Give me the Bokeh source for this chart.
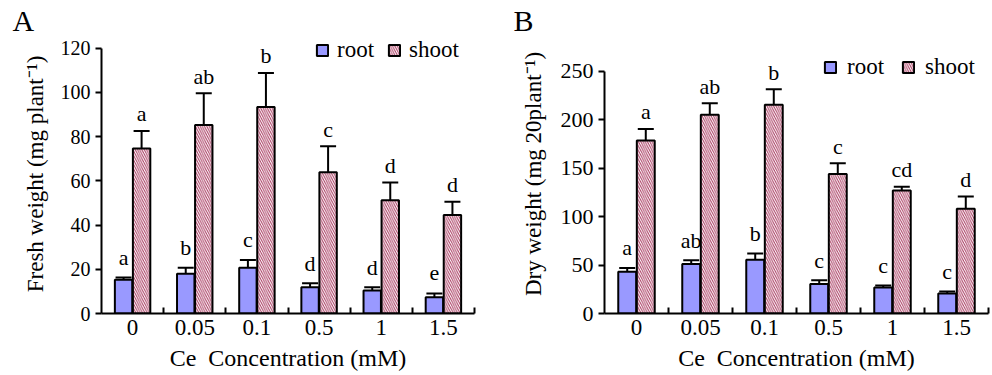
from bokeh.plotting import figure
from bokeh.layouts import row
from bokeh.models import (ColumnDataSource, Range1d, FixedTicker, Whisker, TeeHead,
                          Legend, LegendItem)
from bokeh.transform import dodge
from bokeh.embed import file_html
from bokeh.resources import INLINE

concentrations = ["0", "0.05", "0.1", "0.5", "1", "1.5"]

fresh_root = [15.3, 18.0, 20.7, 11.9, 10.4, 7.4]
fresh_root_err = [1.0, 2.7, 3.5, 1.8, 1.5, 1.7]
fresh_shoot = [74.6, 85.3, 93.4, 63.9, 51.2, 44.5]
fresh_shoot_err = [8.0, 14.3, 15.4, 11.7, 8.0, 6.0]
fresh_root_letters = ["a", "b", "c", "d", "d", "e"]
fresh_shoot_letters = ["a", "ab", "b", "c", "d", "d"]

dry_root = [43.0, 51.0, 55.5, 30.4, 26.9, 20.7]
dry_root_err = [4.0, 4.0, 6.5, 4.0, 2.0, 2.0]
dry_shoot = [178.4, 205.0, 215.3, 144.0, 126.8, 108.2]
dry_shoot_err = [12.0, 12.0, 16.0, 11.0, 4.0, 12.5]
dry_root_letters = ["a", "ab", "b", "c", "c", "c"]
dry_shoot_letters = ["a", "ab", "b", "c", "cd", "d"]

FONT = "Liberation Serif"
ROOT_COLOR = "#9999ff"
HATCH_COLOR = "#a8385f"


def make_panel(tag, ylabel, ymax, ytop, ystep, root, root_err, shoot, shoot_err,
               root_letters, shoot_letters, width, height, b_left, b_right,
               b_top, b_bottom, legend_loc, legend_standoff, legend_spacing,
               ylabel_standoff, ytick_size, tag_offset):
    n = len(concentrations)
    centers = [i + 0.5 for i in range(n)]
    src = ColumnDataSource(dict(
        x=centers,
        root=root, root_up=[v + e for v, e in zip(root, root_err)],
        root_lo=[v - e for v, e in zip(root, root_err)],
        shoot=shoot, shoot_up=[v + e for v, e in zip(shoot, shoot_err)],
        shoot_lo=[v - e for v, e in zip(shoot, shoot_err)],
        rl=root_letters, sl=shoot_letters,
    ))
    p = figure(width=width, height=height, output_backend="svg", toolbar_location=None,
               title=tag,
               x_range=Range1d(0, n), y_range=Range1d(0, ytop),
               min_border_left=b_left, min_border_right=b_right,
               min_border_top=b_top, min_border_bottom=b_bottom)
    p.outline_line_color = None
    p.grid.visible = False
    p.background_fill_color = "white"

    off = 0.145
    bw = 0.28
    r1 = p.vbar(x=dodge("x", -off), top="root", width=bw, bottom=0, source=src,
                fill_color=ROOT_COLOR, line_color="black", line_width=2)
    r2 = p.vbar(x=dodge("x", off), top="shoot", width=bw, bottom=0, source=src,
                fill_color="white", line_color="black", line_width=2,
                hatch_pattern="\\", hatch_color=HATCH_COLOR, hatch_scale=4.5,
                hatch_weight=1)

    for xoff, up, lo in ((-off, "root_up", "root_lo"), (off, "shoot_up", "shoot_lo")):
        w = Whisker(source=src, base=dodge("x", xoff), upper=up, lower=lo,
                    line_color="black", line_width=2,
                    upper_head=TeeHead(size=16, line_width=2, line_color="black"),
                    lower_head=TeeHead(size=16, line_width=2, line_color="black"))
        p.add_layout(w)

    p.text(x=dodge("x", -off), y="root_up", text="rl", source=src,
           text_font=FONT, text_font_size="22px", text_align="center",
           text_baseline="alphabetic", y_offset=-20, text_color="black")
    p.text(x=dodge("x", off), y="shoot_up", text="sl", source=src,
           text_font=FONT, text_font_size="22px", text_align="center",
           text_baseline="alphabetic", y_offset=-17, text_color="black")

    # x axis
    xa = p.xaxis[0]
    xa.ticker = FixedTicker(ticks=centers, minor_ticks=list(range(1, n + 1)))
    xa.major_label_overrides = {c: lab for c, lab in zip(centers, concentrations)}
    xa.major_tick_in = 0
    xa.major_tick_out = 0
    xa.minor_tick_in = 6
    xa.minor_tick_out = 0
    xa.minor_tick_line_width = 2
    xa.minor_tick_line_color = "black"
    xa.axis_line_width = 2
    xa.axis_line_color = "black"
    xa.major_label_text_font = FONT
    xa.major_label_text_font_size = "23px"
    xa.major_label_text_color = "black"
    xa.major_label_standoff = 6
    xa.axis_label = "Ce\u00a0\u00a0Concentration (mM)"
    xa.axis_label_text_font = FONT
    xa.axis_label_text_font_size = "24px"
    xa.axis_label_text_font_style = "normal"
    xa.axis_label_text_color = "black"
    xa.axis_label_standoff = 7

    # y axis
    ya = p.yaxis[0]
    ya.ticker = FixedTicker(ticks=list(range(0, ymax + 1, ystep)))
    ya.bounds = (0, ymax)
    ya.major_tick_in = 0
    ya.major_tick_out = 6
    ya.major_tick_line_width = 2
    ya.minor_tick_line_color = None
    ya.axis_line_width = 2
    ya.axis_line_color = "black"
    ya.major_tick_line_color = "black"
    ya.major_label_text_font = FONT
    ya.major_label_text_font_size = ytick_size
    ya.major_label_text_color = "black"
    ya.major_label_standoff = 5
    ya.axis_label = ylabel
    ya.axis_label_text_font = FONT
    ya.axis_label_text_font_size = "23px"
    ya.axis_label_text_font_style = "normal"
    ya.axis_label_text_color = "black"
    ya.axis_label_standoff = ylabel_standoff

    legend = Legend(items=[LegendItem(label="root", renderers=[r1]),
                           LegendItem(label="shoot", renderers=[r2])],
                    orientation="horizontal", location=legend_loc,
                    border_line_color=None, background_fill_alpha=0,
                    label_text_font=FONT, label_text_font_size="23px",
                    label_text_color="black", glyph_width=14, glyph_height=14,
                    label_standoff=legend_standoff, spacing=legend_spacing,
                    padding=0, margin=0, label_height=14)
    p.add_layout(legend, "center")

    p.title.text_font = FONT
    p.title.text_font_size = "30px"
    p.title.text_font_style = "normal"
    p.title.text_color = "black"
    p.title.align = "left"
    p.title.offset = tag_offset
    p.title.standoff = -4
    return p


pa = make_panel("A", "Fresh weight (mg plant\u207b\u00b9)", 120, 126.2, 20,
                fresh_root, fresh_root_err, fresh_shoot, fresh_shoot_err,
                fresh_root_letters, fresh_shoot_letters,
                width=496, height=375, b_left=101, b_right=22, b_top=34, b_bottom=62,
                legend_loc=(214, 250), legend_standoff=8, legend_spacing=13,
                ylabel_standoff=10, ytick_size="20px", tag_offset=-89)
pb = make_panel("B", "Dry weight (mg 20plant\u207b\u00b9)", 250, 287.9, 50,
                dry_root, dry_root_err, dry_shoot, dry_shoot_err,
                dry_root_letters, dry_shoot_letters,
                width=496, height=375, b_left=108, b_right=4, b_top=34, b_bottom=62,
                legend_loc=(219, 233), legend_standoff=10, legend_spacing=17,
                ylabel_standoff=12, ytick_size="22px", tag_offset=-91)

layout = row(pa, pb, spacing=0)
open("out.html", "w").write(file_html(layout, INLINE))
